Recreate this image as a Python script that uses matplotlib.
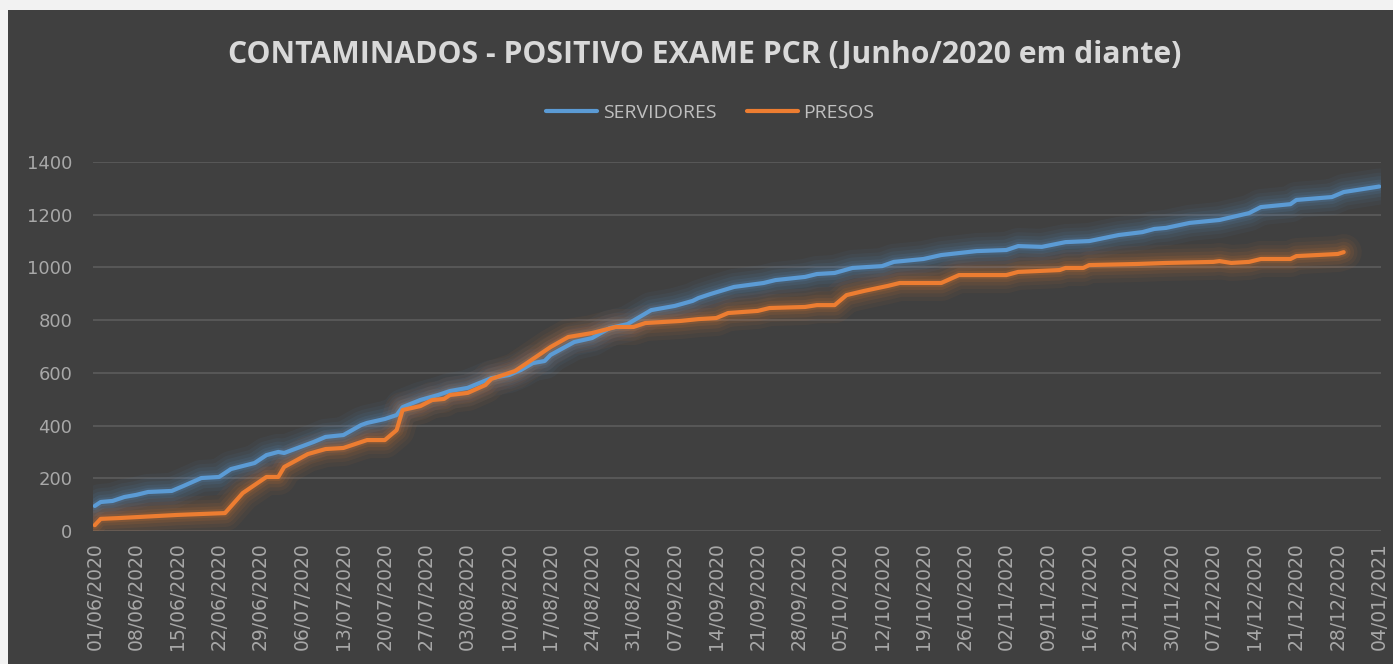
import numpy as np
import pandas as pd
import matplotlib
matplotlib.use("Agg")
import matplotlib.pyplot as plt
import matplotlib.dates as mdates
from matplotlib.patches import Rectangle

# Dados (dias desde 01/06/2020, acumulado)
start = pd.Timestamp("2020-06-01")

serv_days = [0, 1, 3, 5, 7, 9, 13, 15, 18, 21, 23, 27, 29, 31, 32, 37, 39, 42, 45, 46,
             49, 51, 52, 55, 58, 60, 63, 67, 70, 72, 74, 76, 77, 81, 84, 87, 90, 94, 98,
             101, 102, 104, 108, 113, 115, 120, 122, 125, 128, 133, 135, 140, 143, 149,
             154, 156, 160, 164, 168, 173, 177, 179, 181, 185, 190, 195, 197, 202, 203,
             209, 211, 217]
serv_vals = [95, 110, 114, 129, 137, 148, 152, 171, 201, 205, 235, 258, 288, 300, 296, 338,
             357, 364, 402, 410, 425, 440, 470, 497, 516, 531, 543, 580, 592, 611, 637,
             645, 668, 717, 732, 770, 785, 838, 854, 873, 884, 899, 926, 941, 952, 964,
             975, 979, 998, 1005, 1021, 1032, 1047, 1062, 1066, 1081, 1078, 1096, 1100,
             1123, 1134, 1146, 1150, 1169, 1180, 1206, 1229, 1240, 1256, 1267, 1286, 1307]

pres_days = [0, 1, 4, 14, 22, 25, 29, 31, 32, 36, 39, 42, 46, 49, 51, 52, 55, 57, 59, 60,
             63, 66, 67, 71, 73, 77, 80, 84, 88, 91, 93, 99, 102, 105, 107, 112, 114, 120,
             122, 125, 127, 130, 134, 136, 143, 146, 154, 156, 163, 164, 167, 168, 176,
             181, 189, 190, 192, 195, 197, 202, 203, 210, 211]
pres_vals = [22, 46, 49, 61, 68, 144, 205, 205, 243, 292, 311, 315, 345, 345, 383, 459, 474,
             497, 501, 516, 524, 554, 577, 607, 637, 698, 736, 751, 774, 774, 789, 797, 804,
             808, 827, 835, 846, 850, 857, 857, 895, 911, 930, 941, 941, 971, 971, 983, 990,
             998, 998, 1009, 1013, 1017, 1021, 1024, 1017, 1021, 1032, 1032, 1043, 1051, 1058]

serv_dates = start + pd.to_timedelta(serv_days, unit="D")
pres_dates = start + pd.to_timedelta(pres_days, unit="D")

titulo = "CONTAMINADOS - POSITIVO EXAME PCR (Junho/2020 em diante)"
bg = "#404040"
azul = "#5b9bd5"
laranja = "#ed7d31"

fig = plt.figure(figsize=(13.93, 6.64), dpi=100)
fig.patch.set_facecolor(bg)
# borda clara em cima e à esquerda
fig.patches.append(Rectangle((0, 0), 8 / 1393, 1, transform=fig.transFigure,
                             facecolor="#f2f2f2", edgecolor="none", zorder=-5))
fig.patches.append(Rectangle((0, 1 - 10 / 664), 1, 10 / 664, transform=fig.transFigure,
                             facecolor="#f2f2f2", edgecolor="none", zorder=-5))

ax = fig.add_axes([93 / 1393, 1 - 531 / 664, (1381 - 93) / 1393, (531 - 162) / 664])
ax.set_facecolor(bg)

# efeito de brilho
for lw, a in [(26, 0.05), (20, 0.06), (15, 0.08), (10, 0.10), (6, 0.14)]:
    ax.plot(serv_dates, serv_vals, color=azul, lw=lw, alpha=a, solid_capstyle="round",
            solid_joinstyle="round")
    ax.plot(pres_dates, pres_vals, color=laranja, lw=lw, alpha=a, solid_capstyle="round",
            solid_joinstyle="round")

ax.plot(serv_dates, serv_vals, color=azul, lw=3, label="SERVIDORES",
        solid_capstyle="round", solid_joinstyle="round")
ax.plot(pres_dates, pres_vals, color=laranja, lw=3, label="PRESOS",
        solid_capstyle="round", solid_joinstyle="round")

ax.set_ylim(0, 1400)
ax.set_yticks(range(0, 1401, 200))
ax.set_xlim(start - pd.Timedelta(days=0.3), pd.Timestamp("2021-01-04") + pd.Timedelta(days=0.3))
ax.set_xticks(pd.date_range(start, "2021-01-04", freq="7D"))
ax.xaxis.set_major_formatter(mdates.DateFormatter("%d/%m/%Y"))

ax.grid(axis="y", color="#5a5a5a", lw=1.3)
ax.set_axisbelow(True)
for s in ax.spines.values():
    s.set_visible(False)
ax.tick_params(axis="both", length=0, colors="#a8a8a8")
ax.tick_params(axis="y", labelsize=13, pad=15)
ax.tick_params(axis="x", labelsize=13.5, pad=8)
plt.setp(ax.get_xticklabels(), rotation=90)

fig.text(0.506, 1 - 55 / 664, titulo, ha="center", va="center", fontsize=21.7,
         fontweight="bold", color="#d9d9d9", family="Open Sans")

leg = fig.legend(loc="center", bbox_to_anchor=(0.51, 1 - 113 / 664), ncol=2, frameon=False,
                 handlelength=2.6, columnspacing=1.6, handletextpad=0.3,
                 prop={"family": "Open Sans", "size": 14})
for t in leg.get_texts():
    t.set_color("#bfbfbf")
for h in leg.legend_handles:
    h.set_linewidth(3)

fig.savefig("out.png", dpi=100, facecolor=fig.get_facecolor())
